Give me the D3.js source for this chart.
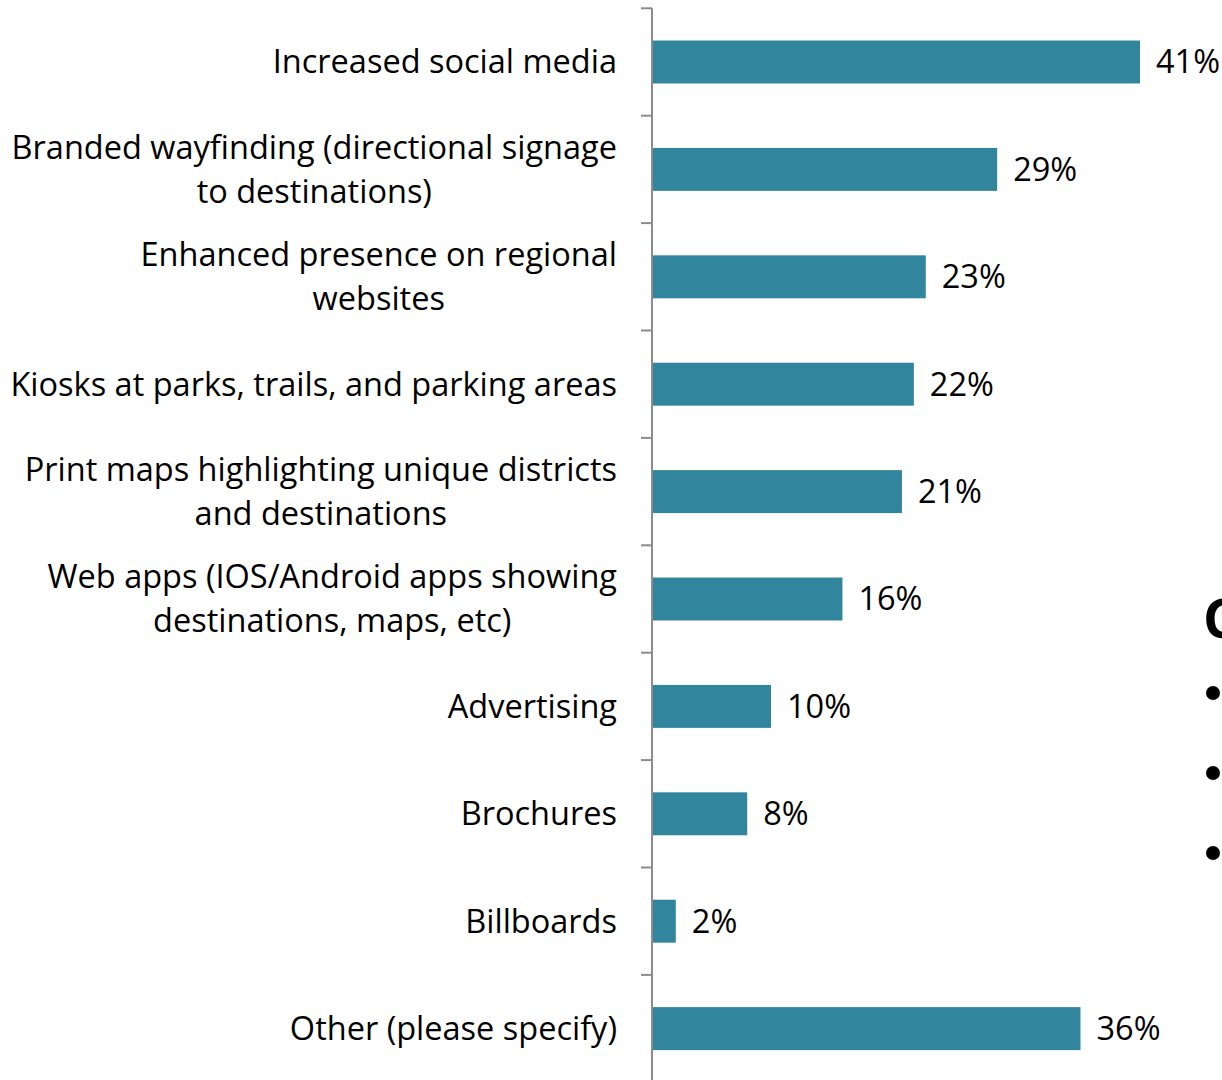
<!DOCTYPE html>
<html>
<head>
<meta charset="utf-8">
<script src="https://cdn.jsdelivr.net/npm/d3@7"></script>
<style>
  html, body { margin: 0; padding: 0; background: #fff; }
  svg { display: block; }
  text { font-family: "Open Sans", Lato, sans-serif; fill: #000; }
</style>
</head>
<body>
<svg id="chart" width="1222" height="1080"></svg>
<script>
// Survey answers, top to bottom (multi-line labels split on "|")
const categories = [
  "Increased social media",
  "Branded wayfinding (directional signage|to destinations)",
  "Enhanced presence on regional|websites",
  "Kiosks at parks, trails, and parking areas",
  "Print maps highlighting unique districts|and destinations",
  "Web apps (IOS/Android apps showing|destinations, maps, etc)",
  "Advertising",
  "Brochures",
  "Billboards",
  "Other (please specify)"
];
const values = [41, 29, 23, 22, 21, 16, 10, 8, 2, 36];
const valueLabels = ["41%", "29%", "23%", "22%", "21%", "16%", "10%", "8%", "2%", "36%"];

// Partial heading from the neighbouring text box on the right
const sideHeading = ["C"];
const sideBulletCount = 3;

const svg = d3.select("#chart");
const axisX = 652;
const fontSize = 32.5;

const y = d3.scaleBand()
  .domain(categories)
  .range([8.3, 8.3 + 107.4 * categories.length])
  .paddingInner(0.6)
  .paddingOuter(0.3);

const x = d3.scaleLinear()
  .domain([0, 41])
  .range([axisX, 1140]);

// Bars
svg.append("g")
  .selectAll("rect")
  .data(values)
  .join("rect")
  .attr("x", x(0))
  .attr("y", (d, i) => y(categories[i]))
  .attr("width", d => x(d) - x(0))
  .attr("height", y.bandwidth())
  .attr("fill", "#31859C");

// Category axis: vertical line with ticks at band boundaries
const axis = d3.axisLeft(y).tickSize(0).tickFormat("");
const gAxis = svg.append("g").attr("transform", `translate(${axisX},0)`).call(axis);
gAxis.select(".domain").remove();

const step = y.step();
const first = y.range()[0];
const boundaries = d3.range(categories.length + 1).map(i => first + i * step);
gAxis.append("line")
  .attr("x1", 0).attr("x2", 0)
  .attr("y1", first).attr("y2", 1080)
  .attr("stroke", "#8c8c8c").attr("stroke-width", 2);
gAxis.selectAll(".bnd")
  .data(boundaries)
  .join("line")
  .attr("class", "bnd")
  .attr("x1", -11).attr("x2", 0)
  .attr("y1", d => d).attr("y2", d => d)
  .attr("stroke", "#8c8c8c").attr("stroke-width", 2);

// Category labels: block right-aligned, lines centred within the block
const labelRight = 617;
const lineGap = 44;
const labels = svg.append("g").attr("font-size", fontSize);
categories.forEach((c, i) => {
  const lines = c.split("|");
  const cy = y(c) + y.bandwidth() / 2;
  const g = labels.append("g");
  const texts = lines.map((ln, j) =>
    g.append("text")
      .attr("y", cy + (j - (lines.length - 1) / 2) * lineGap)
      .attr("dy", "0.35em")
      .text(ln)
  );
  const widths = texts.map(t => t.node().getComputedTextLength());
  const blockW = d3.max(widths);
  texts.forEach(t => t.attr("text-anchor", "middle").attr("x", labelRight - blockW / 2));
});

// Value labels
svg.append("g")
  .attr("font-size", fontSize)
  .selectAll("text")
  .data(values)
  .join("text")
  .attr("x", d => x(d) + 16)
  .attr("y", (d, i) => y(categories[i]) + y.bandwidth() / 2)
  .attr("dy", "0.35em")
  .text((d, i) => valueLabels[i]);

// Neighbouring text box: heading fragment and bullet markers
svg.append("text")
  .attr("x", 1203).attr("y", 638)
  .attr("font-size", 54).attr("font-weight", "bold")
  .text(sideHeading[0]);
svg.append("g")
  .selectAll("circle")
  .data(d3.range(sideBulletCount))
  .join("circle")
  .attr("cx", 1213)
  .attr("cy", i => 693 + i * 80)
  .attr("r", 7)
  .attr("fill", "#000");
</script>
</body>
</html>
